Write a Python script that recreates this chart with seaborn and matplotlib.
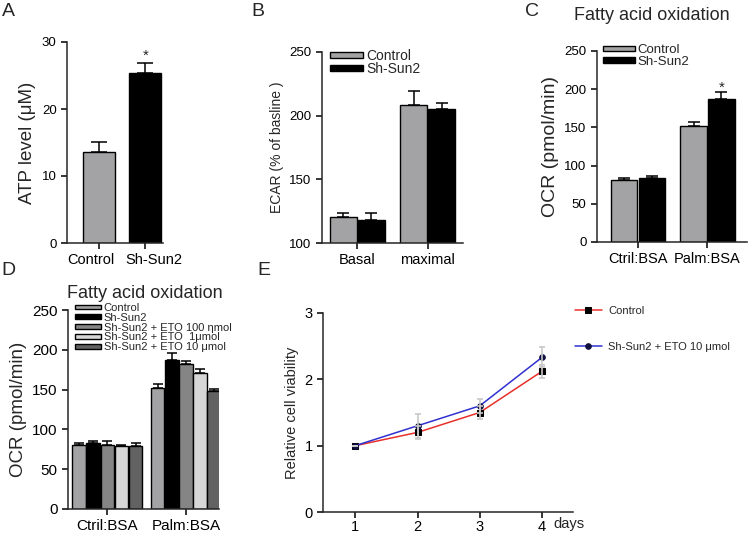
import numpy as np
import pandas as pd
import matplotlib
matplotlib.use("Agg")
import matplotlib.pyplot as plt
import matplotlib.transforms as mtransforms
import seaborn as sns

# datos

# A - ATP
grupos_a = ["Control", "Sh-Sun2"]
atp_media = [13.6, 25.4]
atp_error = [1.5, 1.4]

# B - ECAR
condiciones_b = ["Basal", "maximal"]
ecar_control = [120.4, 208.6]
ecar_control_err = [3.0, 11.0]
ecar_sun2 = [118.3, 205.0]
ecar_sun2_err = [5.0, 5.0]

# C - OCR
condiciones_c = ["Ctril:BSA", "Palm:BSA"]
ocr_control = [81.4, 152.0]
ocr_control_err = [3.0, 4.5]
ocr_sun2 = [84.0, 187.7]
ocr_sun2_err = [3.0, 8.0]

# D - OCR con ETO
series_d = ["Control", "Sh-Sun2", "Sh-Sun2 + ETO 100 ηmol",
            "Sh-Sun2 + ETO  1μmol", "Sh-Sun2 + ETO 10 μmol"]
d_control = [80.4, 151.6]
d_control_err = [2.6, 5.4]
d_sun2 = [83.3, 187.0]
d_sun2_err = [2.1, 8.6]
d_eto100 = [81.0, 181.7]
d_eto100_err = [4.4, 4.3]
d_eto1 = [79.0, 171.0]
d_eto1_err = [2.0, 4.5]
d_eto10 = [79.0, 148.7]
d_eto10_err = [3.5, 2.0]

# E - viabilidad
dias = [1, 2, 3, 4]
via_control = [1.0, 1.2, 1.5, 2.12]
via_control_err = [0.0, 0.1, 0.1, 0.1]
via_eto = [1.0, 1.3, 1.6, 2.33]
via_eto_err = [0.0, 0.18, 0.1, 0.15]

gris = "#a3a3a5"
colores_d = [gris, "#000000", "#858585", "#d6d6d6", "#626262"]

sns.set_style("ticks")
plt.rcParams['font.family'] = ['Liberation Sans', 'DejaVu Sans']
plt.rcParams['axes.linewidth'] = 1.1
plt.rcParams['xtick.major.width'] = 1.1
plt.rcParams['ytick.major.width'] = 1.1

W, H = 748, 533
fig = plt.figure(figsize=(W / 100, H / 100), dpi=100)


def caja(izq, arriba, der, abajo):
    return [izq / W, 1 - abajo / H, (der - izq) / W, (abajo - arriba) / H]


def barras(ax, tabla, x, hue, orden, paleta, ancho, errores, cap):
    sns.barplot(data=tabla, x=x, y="valor", hue=hue, hue_order=orden, palette=paleta,
                width=ancho, gap=0.04, edgecolor="black", linewidth=1, errorbar=None,
                legend=False, ax=ax, dodge=True)
    for cont, err in zip(ax.containers, errores):
        xs = [b.get_x() + b.get_width() / 2 for b in cont]
        ys = [b.get_height() for b in cont]
        ax.errorbar(xs, ys, yerr=[np.zeros(len(err)), err], fmt="none", ecolor="black",
                    elinewidth=1.1, capsize=cap, capthick=1.1)
    sns.despine(ax=ax)
    ax.set_xlabel("")
    ax.tick_params(direction="out", length=4, colors="black")


def leyenda(ax, etiquetas, colores, fs, pos, espacio):
    from matplotlib.patches import Patch
    manejadores = [Patch(facecolor=c, edgecolor="black", linewidth=1) for c in colores]
    ax.legend(manejadores, etiquetas, loc="upper left", bbox_to_anchor=pos, frameon=False,
              fontsize=fs, handlelength=2.4, handleheight=0.3, handletextpad=0.2,
              labelspacing=espacio, borderpad=0, borderaxespad=0)


# ---- A
ax_a = fig.add_axes(caja(67, 42, 163, 243))
tabla_a = pd.DataFrame({"grupo": grupos_a, "valor": atp_media})
sns.barplot(data=tabla_a, x="grupo", y="valor", hue="grupo", palette=[gris, "black"],
            width=0.69, edgecolor="black", linewidth=1, errorbar=None, legend=False, ax=ax_a)
xs_a = [b.get_x() + b.get_width() / 2 for c in ax_a.containers for b in c]
ax_a.errorbar(xs_a, atp_media, yerr=[[0, 0], atp_error], fmt="none", ecolor="black",
              elinewidth=1.1, capsize=6, capthick=1.1)
ax_a.text(xs_a[1], atp_media[1] + atp_error[1] + 0.6, "*", ha="center", fontsize=11)
sns.despine(ax=ax_a)
ax_a.set_ylim(0, 30)
ax_a.set_xlim(-0.69, 1.38)
ax_a.set_yticks([0, 10, 20, 30])
ax_a.set_xlabel("")
ax_a.set_ylabel("ATP level (μM)", fontsize=13.5)
ax_a.tick_params(direction="out", length=4, labelsize=9.5, colors="black")
ax_a.tick_params(axis="x", labelsize=10.5)
# separar un poco las etiquetas del eje x
for etiqueta, dx in zip(ax_a.get_xticklabels(), [-8, 8]):
    etiqueta.set_transform(etiqueta.get_transform() +
                           mtransforms.ScaledTranslation(dx / 100, 0, fig.dpi_scale_trans))

# ---- B
ax_b = fig.add_axes(caja(322, 52, 463, 243))
tabla_b = pd.DataFrame({"cond": condiciones_b * 2, "valor": ecar_control + ecar_sun2,
                        "grupo": ["Control"] * 2 + ["Sh-Sun2"] * 2})
barras(ax_b, tabla_b, "cond", "grupo", ["Control", "Sh-Sun2"], [gris, "black"], 0.8,
       [ecar_control_err, ecar_sun2_err], 4.5)
ax_b.set_ylim(100, 250)
ax_b.set_xlim(-0.5, 1.5)
ax_b.set_yticks([100, 150, 200, 250])
ax_b.set_ylabel("ECAR (% of basline )", fontsize=10)
ax_b.tick_params(axis="y", labelsize=9.5)
ax_b.tick_params(axis="x", labelsize=10.5)
leyenda(ax_b, ["Control", "Sh-Sun2"], [gris, "black"], 10, (0.057, 1.015), -0.05)

# ---- C
ax_c = fig.add_axes(caja(597, 51, 747, 242))
tabla_c = pd.DataFrame({"cond": condiciones_c * 2, "valor": ocr_control + ocr_sun2,
                        "grupo": ["Control"] * 2 + ["Sh-Sun2"] * 2})
barras(ax_c, tabla_c, "cond", "grupo", ["Control", "Sh-Sun2"], [gris, "black"], 0.8,
       [ocr_control_err, ocr_sun2_err], 4.5)
ax_c.set_ylim(0, 250)
ax_c.set_xlim(-0.59, 1.57)
ax_c.set_yticks([0, 50, 100, 150, 200, 250])
ax_c.set_ylabel("OCR (pmol/min)", fontsize=14)
ax_c.tick_params(axis="y", labelsize=9.5)
ax_c.tick_params(axis="x", labelsize=10.5)
barra_c = ax_c.containers[1][1]
ax_c.text(barra_c.get_x() + barra_c.get_width() / 2, ocr_sun2[1] + ocr_sun2_err[1] + 1,
          "*", ha="center", fontsize=11)
leyenda(ax_c, ["Control", "Sh-Sun2"], [gris, "black"], 9.5, (0.04, 1.035), -0.03)
fig.text(652 / W, 1 - 15 / H, "Fatty acid oxidation", ha="center", va="center", fontsize=13)

# ---- D
ax_d = fig.add_axes(caja(68, 310, 219, 509))
valores_d = [d_control, d_sun2, d_eto100, d_eto1, d_eto10]
errores_d = [d_control_err, d_sun2_err, d_eto100_err, d_eto1_err, d_eto10_err]
tabla_d = pd.DataFrame({"cond": condiciones_c * 5,
                        "valor": sum(valores_d, []),
                        "grupo": [s for s in series_d for _ in range(2)]})
barras(ax_d, tabla_d, "cond", "grupo", series_d, colores_d, 0.9, errores_d, 3.5)
ax_d.set_ylim(0, 250)
ax_d.set_xlim(-0.5, 1.42)
ax_d.set_yticks([0, 50, 100, 150, 200, 250])
ax_d.set_ylabel("OCR (pmol/min)", fontsize=13.5)
ax_d.tick_params(axis="y", labelsize=11)
ax_d.tick_params(axis="x", labelsize=11)
leyenda(ax_d, series_d, colores_d, 8, (0.045, 1.035), -0.02)
fig.text(145 / W, 1 - 293 / H, "Fatty acid oxidation", ha="center", va="center", fontsize=13)

# ---- E
ax_e = fig.add_axes(caja(323, 313, 573, 512))
ax_e.errorbar(dias, via_control, yerr=via_control_err, fmt="none", ecolor="#c8c8c8",
              elinewidth=1.2, capsize=2, capthick=1.2, zorder=3)
ax_e.errorbar(dias, via_eto, yerr=via_eto_err, fmt="none", ecolor="#c8c8c8",
              elinewidth=1.2, capsize=2, capthick=1.2, zorder=3)
sns.lineplot(x=dias, y=via_control, ax=ax_e, color="#e8302a", lw=1.1, marker="s",
             markersize=4, markerfacecolor="black", markeredgecolor="black", label="Control")
sns.lineplot(x=dias, y=via_eto, ax=ax_e, color="#3030d0", lw=1.1, marker="o",
             markersize=4, markerfacecolor="#101040", markeredgecolor="#101040",
             label="Sh-Sun2 + ETO 10 μmol")
sns.despine(ax=ax_e)
ax_e.set_xlim(0.48, 4.5)
ax_e.set_ylim(0, 3)
ax_e.set_xticks(dias)
ax_e.set_yticks([0, 1, 2, 3])
ax_e.set_ylabel("Relative cell viability", fontsize=10.5)
ax_e.tick_params(direction="out", length=4, labelsize=10.5, colors="black")
ax_e.tick_params(axis="x", pad=1.5)
ax_e.legend(loc="upper left", bbox_to_anchor=(575 / W, 1 - 306 / H),
            bbox_transform=fig.transFigure, frameon=False, fontsize=8,
            handlelength=2.4, handletextpad=0.6, labelspacing=2.35, borderpad=0,
            borderaxespad=0)
fig.text(553 / W, 1 - 524 / H, "days", va="center", fontsize=10.5)

# letras de los paneles
for letra, xp, yp in [("A", 2, 3), ("B", 251, 3), ("C", 525, 3), ("D", 1, 262), ("E", 257, 262)]:
    fig.text(xp / W, 1 - yp / H, letra, ha="left", va="top", fontsize=14)

fig.savefig("out.png", dpi=100)
